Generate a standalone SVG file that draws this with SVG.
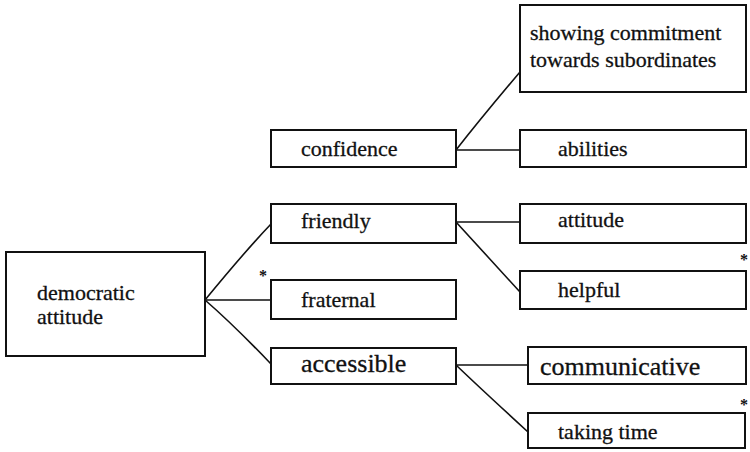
<svg xmlns="http://www.w3.org/2000/svg" width="750" height="452" viewBox="0 0 750 452">
  <style>
    .box { fill: #ffffff; stroke: #111111; stroke-width: 2; }
    .link { fill: none; stroke: #111111; stroke-width: 1.6; stroke-linecap: round; }
    .lbl { font-family: "Liberation Serif", "Times New Roman", serif; font-size: 22px; fill: #111111; stroke: #111111; stroke-width: 0.3; }
    .big { font-size: 26px; }
    .mark { font-family: "Liberation Serif", serif; font-size: 16px; font-weight: bold; fill: #111111; }
  </style>
  <rect width="750" height="452" fill="#ffffff"/>

  <!-- connectors -->
  <g id="connectors">
    <path class="link" d="M205,300 C228,272 250,246 271,224"/>
    <path class="link" d="M205,300 L271,300"/>
    <path class="link" d="M205,300 C228,320 250,342 271,364"/>
    <path class="link" d="M456,150 C478,122 498,98 520,72"/>
    <path class="link" d="M456,150 L520,150"/>
    <path class="link" d="M456,222 L520,222"/>
    <path class="link" d="M456,222 C478,246 498,268 520,292"/>
    <path class="link" d="M456,365 L528,365"/>
    <path class="link" d="M456,365 C480,388 504,410 528,432"/>
  </g>

  <!-- root -->
  <g id="democratic-attitude">
    <rect class="box" x="6" y="252" width="199" height="104"/>
    <text class="lbl" x="37" y="300">democratic</text>
    <text class="lbl" x="37" y="324">attitude</text>
  </g>

  <!-- middle column -->
  <g id="confidence">
    <rect class="box" x="271" y="130" width="185" height="37"/>
    <text class="lbl" x="301" y="156">confidence</text>
  </g>
  <g id="friendly">
    <rect class="box" x="271" y="204" width="185" height="39"/>
    <text class="lbl" x="301" y="228">friendly</text>
  </g>
  <g id="fraternal">
    <rect class="box" x="271" y="280" width="185" height="39"/>
    <text class="lbl" x="301" y="307">fraternal</text>
  </g>
  <g id="accessible">
    <rect class="box" x="271" y="348" width="185" height="36"/>
    <text class="lbl big" x="301" y="372">accessible</text>
  </g>

  <!-- right column -->
  <g id="showing-commitment">
    <rect class="box" x="520" y="5" width="226" height="87"/>
    <text class="lbl" x="530" y="40">showing commitment</text>
    <text class="lbl" x="530" y="67">towards subordinates</text>
  </g>
  <g id="abilities">
    <rect class="box" x="520" y="130" width="226" height="37"/>
    <text class="lbl" x="558" y="156">abilities</text>
  </g>
  <g id="attitude">
    <rect class="box" x="520" y="204" width="226" height="39"/>
    <text class="lbl" x="558" y="227">attitude</text>
  </g>
  <g id="helpful">
    <rect class="box" x="520" y="271" width="226" height="38"/>
    <text class="lbl" x="558" y="297">helpful</text>
  </g>
  <g id="communicative">
    <rect class="box" x="528" y="347" width="218" height="37"/>
    <text class="lbl big" x="540" y="375">communicative</text>
  </g>
  <g id="taking-time">
    <rect class="box" x="528" y="413" width="217" height="35"/>
    <text class="lbl" x="558" y="439">taking time</text>
  </g>

  <!-- margin marks -->
  <text class="mark" x="259" y="281">*</text>
  <text class="mark" x="740" y="265" font-size="10">*</text>
  <text class="mark" x="740" y="410" font-size="10">*</text>
</svg>
